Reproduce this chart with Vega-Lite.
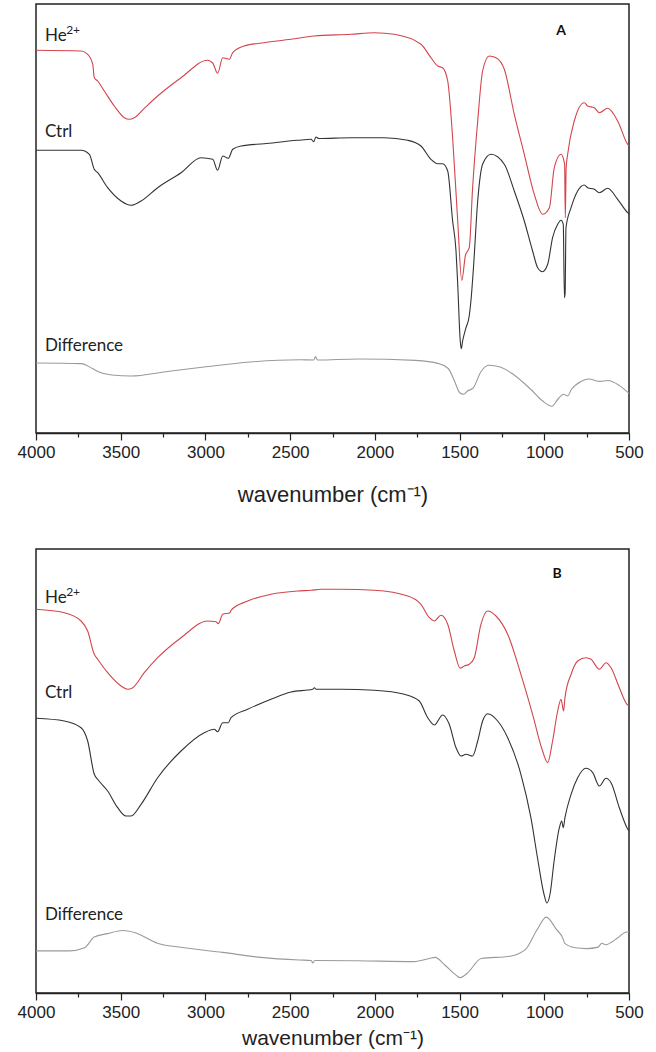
{
  "$schema": "https://vega.github.io/schema/vega-lite/v6.json",
  "background": "white",
  "padding": {"left": 16, "top": 3, "right": 0, "bottom": 0},
  "bounds": "flush",
  "spacing": 116,
  "config": {
    "view": {"stroke": "#222222", "strokeWidth": 1.5},
    "text": {"font": "Lato", "fontSize": 17, "color": "#222222"}
  },
  "datasets": {
    "specA": [
      {"s":"He","wn":4000,"t":382.7},{"s":"He","wn":3734,"t":382},{"s":"He","wn":3695,"t":378.7},{"s":"He","wn":3665,"t":368.7},{"s":"He","wn":3656,"t":355.3},{"s":"He","wn":3636,"t":352},{"s":"He","wn":3597,"t":342},{"s":"He","wn":3538,"t":327},{"s":"He","wn":3479,"t":315.3},{"s":"He","wn":3449,"t":313.7},{"s":"He","wn":3420,"t":315.3},{"s":"He","wn":3361,"t":324.7},{"s":"He","wn":3282,"t":337},{"s":"He","wn":3144,"t":355.3},{"s":"He","wn":2987,"t":372.7},{"s":"He","wn":2957,"t":370},{"s":"He","wn":2928,"t":359.7},{"s":"He","wn":2898,"t":375.3},{"s":"He","wn":2859,"t":373.7},{"s":"He","wn":2839,"t":380.3},{"s":"He","wn":2772,"t":387},{"s":"He","wn":2654,"t":390.3},{"s":"He","wn":2495,"t":393.7},{"s":"He","wn":2359,"t":397},{"s":"He","wn":2141,"t":398.7},{"s":"He","wn":2003,"t":400.3},{"s":"He","wn":1885,"t":398.7},{"s":"He","wn":1728,"t":388.7},{"s":"He","wn":1669,"t":375.3},{"s":"He","wn":1629,"t":367},{"s":"He","wn":1600,"t":365.3},{"s":"He","wn":1570,"t":352},{"s":"He","wn":1541,"t":295.3},{"s":"He","wn":1511,"t":212},{"s":"He","wn":1487,"t":152.5},{"s":"He","wn":1465,"t":178},{"s":"He","wn":1443,"t":185.3},{"s":"He","wn":1423,"t":245.3},{"s":"He","wn":1393,"t":312},{"s":"He","wn":1364,"t":362},{"s":"He","wn":1325,"t":377},{"s":"He","wn":1285,"t":375.3},{"s":"He","wn":1236,"t":363.7},{"s":"He","wn":1177,"t":318.7},{"s":"He","wn":1118,"t":278.7},{"s":"He","wn":1059,"t":238.7},{"s":"He","wn":1010,"t":218.7},{"s":"He","wn":970,"t":225.3},{"s":"He","wn":941,"t":265.3},{"s":"He","wn":901,"t":278.7},{"s":"He","wn":880,"t":268.7},{"s":"He","wn":876,"t":215.3},{"s":"He","wn":871,"t":265},{"s":"He","wn":862,"t":278.7},{"s":"He","wn":823,"t":312},{"s":"He","wn":764,"t":330.3},{"s":"He","wn":744,"t":327},{"s":"He","wn":705,"t":325.3},{"s":"He","wn":675,"t":320.3},{"s":"He","wn":626,"t":324.7},{"s":"He","wn":567,"t":312},{"s":"He","wn":508,"t":288.7},{"s":"He","wn":500,"t":287},
      {"s":"Ctrl","wn":4000,"t":282.7},{"s":"Ctrl","wn":3734,"t":282.7},{"s":"Ctrl","wn":3685,"t":278.7},{"s":"Ctrl","wn":3656,"t":263.7},{"s":"Ctrl","wn":3636,"t":260.3},{"s":"Ctrl","wn":3577,"t":245.3},{"s":"Ctrl","wn":3498,"t":232},{"s":"Ctrl","wn":3439,"t":227.7},{"s":"Ctrl","wn":3380,"t":232},{"s":"Ctrl","wn":3282,"t":245.3},{"s":"Ctrl","wn":3144,"t":260.3},{"s":"Ctrl","wn":3026,"t":275.3},{"s":"Ctrl","wn":2957,"t":273.7},{"s":"Ctrl","wn":2928,"t":262.7},{"s":"Ctrl","wn":2898,"t":277},{"s":"Ctrl","wn":2865,"t":274.7},{"s":"Ctrl","wn":2839,"t":283.7},{"s":"Ctrl","wn":2790,"t":287},{"s":"Ctrl","wn":2653,"t":289.3},{"s":"Ctrl","wn":2455,"t":292.7},{"s":"Ctrl","wn":2377,"t":293.7},{"s":"Ctrl","wn":2361,"t":291.3},{"s":"Ctrl","wn":2348,"t":296},{"s":"Ctrl","wn":2330,"t":294.5},{"s":"Ctrl","wn":2141,"t":295.3},{"s":"Ctrl","wn":1944,"t":295.3},{"s":"Ctrl","wn":1806,"t":292.7},{"s":"Ctrl","wn":1728,"t":287},{"s":"Ctrl","wn":1669,"t":273.7},{"s":"Ctrl","wn":1629,"t":269.3},{"s":"Ctrl","wn":1600,"t":269.3},{"s":"Ctrl","wn":1570,"t":262},{"s":"Ctrl","wn":1541,"t":212},{"s":"Ctrl","wn":1521,"t":182},{"s":"Ctrl","wn":1511,"t":149},{"s":"Ctrl","wn":1496,"t":92},{"s":"Ctrl","wn":1490,"t":84.3},{"s":"Ctrl","wn":1482,"t":92},{"s":"Ctrl","wn":1462,"t":105.3},{"s":"Ctrl","wn":1443,"t":117},{"s":"Ctrl","wn":1433,"t":132},{"s":"Ctrl","wn":1418,"t":165.3},{"s":"Ctrl","wn":1393,"t":232},{"s":"Ctrl","wn":1364,"t":268.7},{"s":"Ctrl","wn":1315,"t":278.7},{"s":"Ctrl","wn":1236,"t":268.7},{"s":"Ctrl","wn":1177,"t":242},{"s":"Ctrl","wn":1118,"t":212},{"s":"Ctrl","wn":1069,"t":182},{"s":"Ctrl","wn":1039,"t":165.3},{"s":"Ctrl","wn":1010,"t":161.3},{"s":"Ctrl","wn":980,"t":168.7},{"s":"Ctrl","wn":951,"t":195.3},{"s":"Ctrl","wn":921,"t":208.7},{"s":"Ctrl","wn":901,"t":212.7},{"s":"Ctrl","wn":888,"t":208.7},{"s":"Ctrl","wn":881,"t":135.3},{"s":"Ctrl","wn":877,"t":140},{"s":"Ctrl","wn":872,"t":205.3},{"s":"Ctrl","wn":842,"t":225.3},{"s":"Ctrl","wn":803,"t":242},{"s":"Ctrl","wn":764,"t":248},{"s":"Ctrl","wn":744,"t":245.3},{"s":"Ctrl","wn":705,"t":243.7},{"s":"Ctrl","wn":675,"t":240.3},{"s":"Ctrl","wn":626,"t":244.7},{"s":"Ctrl","wn":567,"t":233.7},{"s":"Ctrl","wn":508,"t":220.3},{"s":"Ctrl","wn":500,"t":219},
      {"s":"Diff","wn":4000,"t":70},{"s":"Diff","wn":3734,"t":69.4},{"s":"Diff","wn":3667,"t":64.5},{"s":"Diff","wn":3632,"t":61.3},{"s":"Diff","wn":3553,"t":58},{"s":"Diff","wn":3439,"t":57},{"s":"Diff","wn":3235,"t":61.3},{"s":"Diff","wn":3008,"t":66},{"s":"Diff","wn":2737,"t":71},{"s":"Diff","wn":2442,"t":73.2},{"s":"Diff","wn":2361,"t":73},{"s":"Diff","wn":2350,"t":76.5},{"s":"Diff","wn":2339,"t":73},{"s":"Diff","wn":2100,"t":74},{"s":"Diff","wn":1760,"t":72.6},{"s":"Diff","wn":1623,"t":69.4},{"s":"Diff","wn":1567,"t":64.5},{"s":"Diff","wn":1533,"t":53.2},{"s":"Diff","wn":1499,"t":40.3},{"s":"Diff","wn":1476,"t":38.7},{"s":"Diff","wn":1453,"t":42},{"s":"Diff","wn":1419,"t":45.2},{"s":"Diff","wn":1374,"t":61.3},{"s":"Diff","wn":1328,"t":67.7},{"s":"Diff","wn":1261,"t":66},{"s":"Diff","wn":1192,"t":59.7},{"s":"Diff","wn":1079,"t":43.5},{"s":"Diff","wn":1011,"t":32.2},{"s":"Diff","wn":955,"t":26.8},{"s":"Diff","wn":919,"t":34},{"s":"Diff","wn":886,"t":38.7},{"s":"Diff","wn":863,"t":37},{"s":"Diff","wn":840,"t":43.5},{"s":"Diff","wn":783,"t":51.6},{"s":"Diff","wn":738,"t":54},{"s":"Diff","wn":671,"t":51.6},{"s":"Diff","wn":624,"t":52.5},{"s":"Diff","wn":556,"t":47.4},{"s":"Diff","wn":500,"t":39.7}
    ],
    "specB": [
      {"s":"He","wn":4000,"t":383.7},{"s":"He","wn":3833,"t":380.3},{"s":"He","wn":3734,"t":372},{"s":"He","wn":3695,"t":362},{"s":"He","wn":3656,"t":338.7},{"s":"He","wn":3636,"t":333.7},{"s":"He","wn":3577,"t":320.3},{"s":"He","wn":3498,"t":307},{"s":"He","wn":3459,"t":303.7},{"s":"He","wn":3429,"t":305.3},{"s":"He","wn":3361,"t":320.3},{"s":"He","wn":3282,"t":335.3},{"s":"He","wn":3144,"t":355.3},{"s":"He","wn":2987,"t":372},{"s":"He","wn":2938,"t":371.3},{"s":"He","wn":2924,"t":369.3},{"s":"He","wn":2898,"t":378.7},{"s":"He","wn":2855,"t":380.3},{"s":"He","wn":2849,"t":382.7},{"s":"He","wn":2751,"t":392},{"s":"He","wn":2613,"t":398.7},{"s":"He","wn":2455,"t":402},{"s":"He","wn":2377,"t":402.7},{"s":"He","wn":2318,"t":403.7},{"s":"He","wn":2200,"t":403.7},{"s":"He","wn":2003,"t":402.7},{"s":"He","wn":1806,"t":397},{"s":"He","wn":1728,"t":388.7},{"s":"He","wn":1678,"t":375.3},{"s":"He","wn":1649,"t":372},{"s":"He","wn":1610,"t":377.7},{"s":"He","wn":1570,"t":368.7},{"s":"He","wn":1531,"t":342},{"s":"He","wn":1496,"t":324.7},{"s":"He","wn":1472,"t":327},{"s":"He","wn":1443,"t":328.7},{"s":"He","wn":1413,"t":335.3},{"s":"He","wn":1374,"t":368.7},{"s":"He","wn":1334,"t":382},{"s":"He","wn":1285,"t":377},{"s":"He","wn":1216,"t":358.7},{"s":"He","wn":1138,"t":318.7},{"s":"He","wn":1069,"t":278.7},{"s":"He","wn":1010,"t":242},{"s":"He","wn":980,"t":230.3},{"s":"He","wn":951,"t":252},{"s":"He","wn":921,"t":282},{"s":"He","wn":901,"t":293.7},{"s":"He","wn":896,"t":290.3},{"s":"He","wn":886,"t":282},{"s":"He","wn":878,"t":295.3},{"s":"He","wn":842,"t":318.7},{"s":"He","wn":803,"t":332},{"s":"He","wn":754,"t":335.3},{"s":"He","wn":724,"t":333.7},{"s":"He","wn":675,"t":323.7},{"s":"He","wn":636,"t":330.3},{"s":"He","wn":606,"t":325.3},{"s":"He","wn":557,"t":305.3},{"s":"He","wn":512,"t":288.7},{"s":"He","wn":500,"t":287},
      {"s":"Ctrl","wn":4000,"t":274.7},{"s":"Ctrl","wn":3833,"t":272},{"s":"Ctrl","wn":3734,"t":265.3},{"s":"Ctrl","wn":3695,"t":252},{"s":"Ctrl","wn":3656,"t":218.7},{"s":"Ctrl","wn":3636,"t":213.7},{"s":"Ctrl","wn":3577,"t":202},{"s":"Ctrl","wn":3518,"t":185.3},{"s":"Ctrl","wn":3469,"t":177},{"s":"Ctrl","wn":3439,"t":177},{"s":"Ctrl","wn":3380,"t":188.7},{"s":"Ctrl","wn":3282,"t":215.3},{"s":"Ctrl","wn":3144,"t":242},{"s":"Ctrl","wn":3007,"t":260.3},{"s":"Ctrl","wn":2948,"t":263.7},{"s":"Ctrl","wn":2928,"t":261.3},{"s":"Ctrl","wn":2898,"t":270.3},{"s":"Ctrl","wn":2865,"t":270.3},{"s":"Ctrl","wn":2849,"t":275.3},{"s":"Ctrl","wn":2751,"t":283.7},{"s":"Ctrl","wn":2613,"t":293.7},{"s":"Ctrl","wn":2495,"t":301},{"s":"Ctrl","wn":2367,"t":303.7},{"s":"Ctrl","wn":2357,"t":305.3},{"s":"Ctrl","wn":2347,"t":303.7},{"s":"Ctrl","wn":2200,"t":303.7},{"s":"Ctrl","wn":2003,"t":302.7},{"s":"Ctrl","wn":1826,"t":298.7},{"s":"Ctrl","wn":1738,"t":292},{"s":"Ctrl","wn":1688,"t":275.3},{"s":"Ctrl","wn":1649,"t":268},{"s":"Ctrl","wn":1600,"t":278},{"s":"Ctrl","wn":1561,"t":268.7},{"s":"Ctrl","wn":1521,"t":245.3},{"s":"Ctrl","wn":1492,"t":237},{"s":"Ctrl","wn":1462,"t":238.7},{"s":"Ctrl","wn":1423,"t":237},{"s":"Ctrl","wn":1393,"t":252},{"s":"Ctrl","wn":1364,"t":272},{"s":"Ctrl","wn":1334,"t":279.3},{"s":"Ctrl","wn":1275,"t":272},{"s":"Ctrl","wn":1216,"t":255.3},{"s":"Ctrl","wn":1138,"t":218.7},{"s":"Ctrl","wn":1079,"t":175.3},{"s":"Ctrl","wn":1037,"t":132},{"s":"Ctrl","wn":1002,"t":99},{"s":"Ctrl","wn":984,"t":90},{"s":"Ctrl","wn":966,"t":99},{"s":"Ctrl","wn":942,"t":132},{"s":"Ctrl","wn":911,"t":165.3},{"s":"Ctrl","wn":897,"t":172},{"s":"Ctrl","wn":888,"t":165.3},{"s":"Ctrl","wn":878,"t":175.3},{"s":"Ctrl","wn":842,"t":198.7},{"s":"Ctrl","wn":803,"t":215.3},{"s":"Ctrl","wn":754,"t":224.7},{"s":"Ctrl","wn":714,"t":220.3},{"s":"Ctrl","wn":675,"t":207},{"s":"Ctrl","wn":636,"t":214.7},{"s":"Ctrl","wn":606,"t":210.3},{"s":"Ctrl","wn":557,"t":185.3},{"s":"Ctrl","wn":512,"t":165.3},{"s":"Ctrl","wn":500,"t":162},
      {"s":"Diff","wn":4000,"t":42.1},{"s":"Diff","wn":3803,"t":42.1},{"s":"Diff","wn":3713,"t":45.2},{"s":"Diff","wn":3657,"t":55.9},{"s":"Diff","wn":3577,"t":59.4},{"s":"Diff","wn":3487,"t":62.5},{"s":"Diff","wn":3419,"t":60.5},{"s":"Diff","wn":3284,"t":49.8},{"s":"Diff","wn":3125,"t":45.2},{"s":"Diff","wn":2899,"t":40.6},{"s":"Diff","wn":2673,"t":35.6},{"s":"Diff","wn":2447,"t":33},{"s":"Diff","wn":2375,"t":32.5},{"s":"Diff","wn":2367,"t":30},{"s":"Diff","wn":2355,"t":32.5},{"s":"Diff","wn":2107,"t":32.2},{"s":"Diff","wn":1768,"t":31.4},{"s":"Diff","wn":1678,"t":34.5},{"s":"Diff","wn":1644,"t":35.6},{"s":"Diff","wn":1587,"t":28},{"s":"Diff","wn":1519,"t":17.6},{"s":"Diff","wn":1497,"t":15.3},{"s":"Diff","wn":1452,"t":20.3},{"s":"Diff","wn":1372,"t":34.5},{"s":"Diff","wn":1203,"t":36.8},{"s":"Diff","wn":1112,"t":43.3},{"s":"Diff","wn":1045,"t":62.5},{"s":"Diff","wn":988,"t":75.9},{"s":"Diff","wn":932,"t":64.4},{"s":"Diff","wn":886,"t":52.9},{"s":"Diff","wn":880,"t":49.8},{"s":"Diff","wn":818,"t":45.2},{"s":"Diff","wn":750,"t":44.4},{"s":"Diff","wn":682,"t":45.9},{"s":"Diff","wn":661,"t":49.8},{"s":"Diff","wn":638,"t":48.3},{"s":"Diff","wn":570,"t":54.8},{"s":"Diff","wn":524,"t":60.5},{"s":"Diff","wn":500,"t":61.3}
    ],
    "labA": [{"wn":3947,"t":397,"txt":"He"},{"wn":3947,"t":301,"txt":"Ctrl"},{"wn":3947,"t":87,"txt":"Difference"}],
    "supA": [{"wn":3822,"t":397,"txt":"2+"}],
    "letA": [{"wn":901,"t":402,"txt":"A"}],
    "labB": [{"wn":3947,"t":395,"txt":"He"},{"wn":3947,"t":300,"txt":"Ctrl"},{"wn":3947,"t":78,"txt":"Difference"}],
    "supB": [{"wn":3822,"t":395,"txt":"2+"}],
    "letB": [{"wn":925,"t":419,"txt":"B"}]
  },
  "vconcat": [
    {
      "width": 593,
      "height": 429,
      "encoding": {
        "x": {"field": "wn", "type": "quantitative",
          "scale": {"domain": [4000, 500], "nice": false, "zero": false},
          "axis": {"values": [4000,3750,3500,3250,3000,2750,2500,2250,2000,1750,1500,1250,1000,750,500],
            "format": "d", "labelExpr": "datum.value % 500 == 0 ? datum.label : ''",
            "tickSize": {"condition": {"test": "datum.value % 500 == 0", "value": 7}, "value": 4},
            "tickColor": "#222222", "tickWidth": 1.2, "domainColor": "#222222", "domainWidth": 1.5,
            "grid": false, "labelFont": "Liberation Sans", "labelFontSize": 17, "labelColor": "#222222",
            "labelPadding": 4, "labelFlush": false, "labelOverlap": false,
            "title": "wavenumber (cm⁻¹)", "titleFont": "Liberation Sans", "titleFontSize": 22,
            "titleFontWeight": "normal", "titleColor": "#222222", "titlePadding": 24}},
        "y": {"field": "t", "type": "quantitative", "scale": {"domain": [0, 429], "nice": false, "zero": false}, "axis": null}
      },
      "layer": [
        {"data": {"name": "specA"}, "mark": {"type": "line", "strokeWidth": 1.1, "interpolate": "monotone"},
          "encoding": {"color": {"field": "s", "type": "nominal", "scale": {"domain": ["He","Ctrl","Diff"], "range": ["#d2454c","#333333","#9a9a9a"]}, "legend": null}}},
        {"data": {"name": "labA"}, "mark": {"type": "text", "align": "left", "baseline": "middle", "font": "Lato", "fontSize": 17, "color": "#222222"},
          "encoding": {"text": {"field": "txt"}}},
        {"data": {"name": "supA"}, "mark": {"type": "text", "align": "left", "baseline": "middle", "dy": -6, "font": "Lato", "fontSize": 12, "color": "#222222"},
          "encoding": {"text": {"field": "txt"}}},
        {"data": {"name": "letA"}, "mark": {"type": "text", "align": "center", "baseline": "middle", "font": "Lato", "fontSize": 14, "fontWeight": "bold", "color": "#111111"},
          "encoding": {"text": {"field": "txt"}}}
      ]
    },
    {
      "width": 593,
      "height": 444,
      "encoding": {
        "x": {"field": "wn", "type": "quantitative",
          "scale": {"domain": [4000, 500], "nice": false, "zero": false},
          "axis": {"values": [4000,3750,3500,3250,3000,2750,2500,2250,2000,1750,1500,1250,1000,750,500],
            "format": "d", "labelExpr": "datum.value % 500 == 0 ? datum.label : ''",
            "tickSize": {"condition": {"test": "datum.value % 500 == 0", "value": 7}, "value": 4},
            "tickColor": "#222222", "tickWidth": 1.2, "domainColor": "#222222", "domainWidth": 1.5,
            "grid": false, "labelFont": "Liberation Sans", "labelFontSize": 17, "labelColor": "#222222",
            "labelPadding": 4, "labelFlush": false, "labelOverlap": false,
            "title": "wavenumber (cm⁻¹)", "titleFont": "Liberation Sans", "titleFontSize": 21,
            "titleFontWeight": "normal", "titleColor": "#222222", "titlePadding": 7}},
        "y": {"field": "t", "type": "quantitative", "scale": {"domain": [0, 444], "nice": false, "zero": false}, "axis": null}
      },
      "layer": [
        {"data": {"name": "specB"}, "mark": {"type": "line", "strokeWidth": 1.1, "interpolate": "monotone"},
          "encoding": {"color": {"field": "s", "type": "nominal", "scale": {"domain": ["He","Ctrl","Diff"], "range": ["#d2454c","#333333","#9a9a9a"]}, "legend": null}}},
        {"data": {"name": "labB"}, "mark": {"type": "text", "align": "left", "baseline": "middle", "font": "Lato", "fontSize": 17, "color": "#222222"},
          "encoding": {"text": {"field": "txt"}}},
        {"data": {"name": "supB"}, "mark": {"type": "text", "align": "left", "baseline": "middle", "dy": -6, "font": "Lato", "fontSize": 12, "color": "#222222"},
          "encoding": {"text": {"field": "txt"}}},
        {"data": {"name": "letB"}, "mark": {"type": "text", "align": "center", "baseline": "middle", "font": "Lato", "fontSize": 14, "fontWeight": "bold", "color": "#111111"},
          "encoding": {"text": {"field": "txt"}}}
      ]
    }
  ]
}
